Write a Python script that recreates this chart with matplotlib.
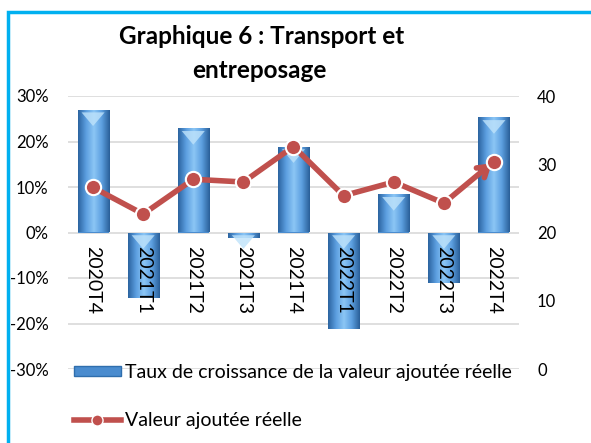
import numpy as np
import matplotlib.pyplot as plt
from matplotlib.patches import Rectangle, Patch
from matplotlib.lines import Line2D
from matplotlib.colors import LinearSegmentedColormap

plt.rcParams['font.family'] = ['Lato', 'DejaVu Sans']

# data
quarters = ['2020T4', '2021T1', '2021T2', '2021T3', '2021T4',
            '2022T1', '2022T2', '2022T3', '2022T4']
growth = [27.0, -14.3, 22.9, -1.3, 18.9, -21.3, 8.4, -11.0, 25.3]   # %
value_added = [26.6, 22.7, 27.8, 27.4, 32.6, 25.4, 27.4, 24.3, 30.4]

pct_ticks = [-30, -20, -10, 0, 10, 20, 30]
right_ticks = [0, 10, 20, 30, 40]

blue_dark = '#2f6ead'
red = '#c0504d'

fig = plt.figure(figsize=(5.91, 4.43), dpi=100)
ax = fig.add_axes([68 / 591, 1 - 369 / 443, 451 / 591, 273 / 443])
ax2 = ax.twinx()

x = np.arange(len(quarters))
bars = ax.bar(x, growth, width=0.62, color='#4a8ccf', zorder=2)

# horizontal gradient inside every bar
cmap = LinearSegmentedColormap.from_list(
    'cyl', ['#2c64a0', '#5c9fe0', '#8cc6f5', '#5c9fe0', '#2a5f99'])
grad = np.linspace(0, 1, 64).reshape(1, -1)
for b in bars:
    x0, y0 = b.get_x(), b.get_y()
    w, h = b.get_width(), b.get_height()
    im = ax.imshow(grad, cmap=cmap, aspect='auto', zorder=2.5,
                   extent=[x0, x0 + w, y0, y0 + h], origin='lower')
    im.set_clip_path(b)
    top = max(y0, y0 + h)
    # light chevron at the top of the bar
    ax.fill([x0 + 0.08, x0 + w - 0.08, x0 + w / 2],
            [top - 0.6, top - 0.6, top - 3.6],
            color='#bfe3fb', alpha=0.8, zorder=2.7, lw=0)

ax.set_xlim(-0.5, len(quarters) - 0.5)
ax.set_ylim(-30, 30)
ax.set_yticks(pct_ticks)
ax.set_yticklabels([f'{t}%' for t in pct_ticks])
ax.set_xticks([])
ax.grid(axis='y', color='#d9d9d9', lw=1.2, zorder=0)
ax.set_axisbelow(True)
for s in ax.spines.values():
    s.set_visible(False)
for s in ax2.spines.values():
    s.set_visible(False)
ax.tick_params(axis='y', length=0, labelsize=12, pad=14)

for i, q in enumerate(quarters):
    ax.annotate(q, xy=(i, 0), xytext=(0, -10), textcoords='offset points',
                rotation=270, ha='center', va='top', fontsize=14, zorder=5)

ax2.set_ylim(0, 40)
ax2.set_yticks(right_ticks)
ax2.tick_params(axis='y', length=0, labelsize=12, pad=13)
ax2.plot(x[:-1], value_added[:-1], color=red, lw=4, zorder=3,
         solid_capstyle='round')
ax2.annotate('', xy=(x[-1], value_added[-1]), xytext=(x[-2], value_added[-2]),
             arrowprops=dict(arrowstyle='->,head_length=0.7,head_width=0.45',
                             color=red, lw=4, shrinkA=0, shrinkB=2))
ax2.plot(x, value_added, ls='none', marker='o', ms=11, mfc=red,
         mec='white', mew=1.5, zorder=4)

fig.text(262 / 591, 1 - 37 / 443, 'Graphique 6 : Transport et',
         ha='center', va='center', fontsize=17.5, fontweight='bold')
fig.text(259 / 591, 1 - 70 / 443, 'entreposage',
         ha='center', va='center', fontsize=17.5, fontweight='bold')

handles = [Patch(facecolor='#4a8ccf', edgecolor=blue_dark),
           Line2D([], [], color=red, lw=4, marker='o', ms=8, mfc=red, mec='white')]
labels = ['Taux de croissance de la valeur ajoutée réelle', 'Valeur ajoutée réelle']
fig.legend(handles, labels, loc='upper left', bbox_to_anchor=(74 / 591, 1 - 364 / 443),
           frameon=False, fontsize=14, handlelength=2.4, handleheight=0.35,
           labelspacing=1.6, handletextpad=0.2, borderaxespad=0, borderpad=0)

# blue frame around the chart
fig.add_artist(Rectangle((8 / 591, -0.1), 1.2, 1 - 12 / 443 + 0.1,
                         transform=fig.transFigure, fill=False,
                         edgecolor='#00b0f0', lw=2.5))

fig.savefig('out.png', dpi=100)
